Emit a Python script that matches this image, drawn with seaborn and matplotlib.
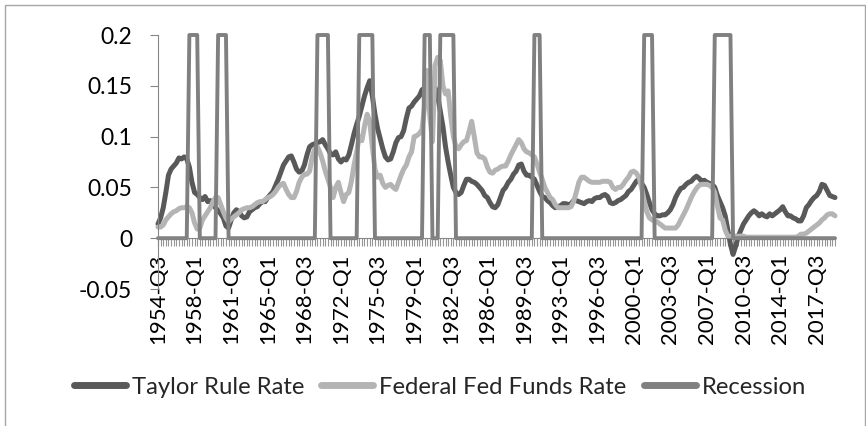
import numpy as np
import pandas as pd
import matplotlib
matplotlib.use("Agg")
import matplotlib.pyplot as plt
import seaborn as sns
from matplotlib.lines import Line2D
from matplotlib.patches import Rectangle
from matplotlib.ticker import FixedLocator

# ---------------- data (quarterly, starting 1954-Q3) ----------------
start_year = 1954
start_quarter = 3

taylor = [
    0.014, 0.02, 0.03, 0.045, 0.062, 0.068, 0.071, 0.074, 0.079, 0.078,
    0.08, 0.078, 0.07, 0.055, 0.045, 0.043, 0.04, 0.038, 0.041, 0.036,
    0.037, 0.033, 0.03, 0.027, 0.024, 0.02, 0.012, 0.01, 0.018, 0.025,
    0.028, 0.026, 0.022, 0.02, 0.021, 0.026, 0.028, 0.03, 0.031, 0.034,
    0.036, 0.036, 0.04, 0.043, 0.046, 0.052, 0.058, 0.065, 0.072, 0.076,
    0.08, 0.081, 0.075, 0.068, 0.065, 0.066, 0.072, 0.082, 0.09, 0.092,
    0.093, 0.094, 0.095, 0.097, 0.092, 0.088, 0.083, 0.082, 0.085, 0.078,
    0.075, 0.078, 0.077, 0.082, 0.092, 0.103, 0.112, 0.12, 0.13, 0.14,
    0.148, 0.155, 0.14, 0.122, 0.108, 0.098, 0.088, 0.08, 0.077, 0.078,
    0.085, 0.094, 0.099, 0.1, 0.106, 0.118, 0.128, 0.13, 0.134, 0.137,
    0.14, 0.146, 0.148, 0.142, 0.145, 0.15, 0.148, 0.14, 0.125, 0.11,
    0.09, 0.075, 0.062, 0.05, 0.045, 0.043, 0.045, 0.052, 0.058, 0.058,
    0.056, 0.055, 0.053, 0.05, 0.047, 0.042, 0.04, 0.035, 0.031, 0.03,
    0.033, 0.04, 0.047, 0.05, 0.055, 0.058, 0.063, 0.066, 0.072, 0.073,
    0.066, 0.062, 0.062, 0.06, 0.058, 0.052, 0.046, 0.041, 0.04, 0.037,
    0.035, 0.032, 0.03, 0.031, 0.032, 0.034, 0.034, 0.033, 0.034, 0.037,
    0.037, 0.036, 0.035, 0.034, 0.036, 0.037, 0.036, 0.039, 0.04, 0.04,
    0.042, 0.043, 0.041, 0.035, 0.034, 0.035, 0.037, 0.038, 0.04, 0.042,
    0.046, 0.048, 0.052, 0.056, 0.058, 0.054, 0.05, 0.043, 0.035, 0.028,
    0.024, 0.022, 0.022, 0.023, 0.023, 0.025, 0.028, 0.033, 0.04, 0.045,
    0.049, 0.05, 0.053, 0.055, 0.056, 0.059, 0.061, 0.059, 0.056, 0.057,
    0.055, 0.054, 0.053, 0.05, 0.042, 0.036, 0.03, 0.022, 0.008, -0.006,
    -0.016, -0.008, 0.002, 0.008, 0.014, 0.018, 0.022, 0.025, 0.027, 0.025,
    0.022, 0.024, 0.022, 0.021, 0.024, 0.022, 0.024, 0.026, 0.028, 0.031,
    0.026, 0.022, 0.022, 0.02, 0.019, 0.017, 0.017, 0.022, 0.03, 0.033,
    0.037, 0.04, 0.042, 0.046, 0.053, 0.052, 0.047, 0.042, 0.041, 0.04,
]

fed_funds = [
    0.011, 0.011, 0.013, 0.018, 0.021, 0.024, 0.026, 0.027, 0.029, 0.03,
    0.03, 0.031, 0.03, 0.025, 0.015, 0.009, 0.01, 0.018, 0.022, 0.026,
    0.03, 0.036, 0.04, 0.04, 0.033, 0.026, 0.02, 0.016, 0.019, 0.021,
    0.023, 0.025, 0.028, 0.029, 0.03, 0.03, 0.031, 0.033, 0.035, 0.036,
    0.036, 0.038, 0.04, 0.041, 0.043, 0.046, 0.05, 0.053, 0.054, 0.048,
    0.043, 0.04, 0.04, 0.046, 0.055, 0.06, 0.063, 0.063, 0.066, 0.08,
    0.088, 0.09, 0.084, 0.076, 0.066, 0.058, 0.05, 0.04, 0.05, 0.055,
    0.045, 0.036, 0.043, 0.045, 0.056, 0.072, 0.085, 0.1, 0.096, 0.11,
    0.122, 0.115, 0.09, 0.068, 0.06, 0.062, 0.054, 0.05, 0.052, 0.053,
    0.05, 0.048, 0.055, 0.062, 0.068, 0.072, 0.08, 0.085, 0.1, 0.101,
    0.103, 0.107, 0.13, 0.165, 0.12, 0.095, 0.17, 0.178, 0.175, 0.15,
    0.142, 0.145, 0.12, 0.1, 0.09, 0.088, 0.092, 0.095, 0.096, 0.105,
    0.115, 0.1, 0.084, 0.08, 0.08, 0.078, 0.07, 0.065, 0.064, 0.067,
    0.068, 0.07, 0.071, 0.071, 0.076, 0.082, 0.087, 0.092, 0.097, 0.094,
    0.088, 0.085, 0.084, 0.082, 0.08, 0.073, 0.065, 0.058, 0.05, 0.045,
    0.04, 0.038, 0.033, 0.03, 0.03, 0.03, 0.03, 0.03, 0.031, 0.036,
    0.045, 0.055, 0.06, 0.06, 0.058, 0.056, 0.055, 0.055, 0.055, 0.055,
    0.056, 0.056, 0.056, 0.055, 0.05, 0.048, 0.05, 0.05, 0.053, 0.057,
    0.06, 0.065, 0.066, 0.064, 0.06, 0.05, 0.037, 0.026, 0.02, 0.018,
    0.017, 0.016, 0.014, 0.012, 0.01, 0.01, 0.01, 0.01, 0.01, 0.013,
    0.018, 0.023, 0.028, 0.034, 0.04, 0.045, 0.049, 0.052, 0.053, 0.053,
    0.053, 0.052, 0.05, 0.045, 0.032, 0.02, 0.018, 0.008, 0.002, 0.002,
    0.002, 0.002, 0.002, 0.002, 0.002, 0.001, 0.001, 0.001, 0.001, 0.001,
    0.001, 0.001, 0.001, 0.001, 0.001, 0.001, 0.001, 0.001, 0.001, 0.001,
    0.001, 0.001, 0.001, 0.001, 0.001, 0.002, 0.004, 0.004, 0.005, 0.007,
    0.009, 0.011, 0.013, 0.015, 0.018, 0.02, 0.023, 0.024, 0.024, 0.022,
]

recession_periods = [
    ("1957-Q3", "1958-Q2"), ("1960-Q2", "1961-Q1"), ("1969-Q4", "1970-Q4"),
    ("1973-Q4", "1975-Q1"), ("1980-Q1", "1980-Q3"), ("1981-Q3", "1982-Q4"),
    ("1990-Q3", "1991-Q1"), ("2001-Q1", "2001-Q4"), ("2007-Q4", "2009-Q2"),
]
recession_level = 0.2

xtick_labels = [
    "1954-Q3", "1958-Q1", "1961-Q3", "1965-Q1", "1968-Q3", "1972-Q1",
    "1975-Q3", "1979-Q1", "1982-Q3", "1986-Q1", "1989-Q3", "1993-Q1",
    "1996-Q3", "2000-Q1", "2003-Q3", "2007-Q1", "2010-Q3", "2014-Q1",
    "2017-Q3",
]
ytick_values = [-0.05, 0, 0.05, 0.1, 0.15, 0.2]
ytick_labels = ["-0.05", "0", "0.05", "0.1", "0.15", "0.2"]
series_names = ["Taylor Rule Rate", "Federal Fed Funds Rate", "Recession"]

# ---------------- build table ----------------
n = len(taylor)
quarters = []
yr, qt = start_year, start_quarter
for _ in range(n):
    quarters.append(f"{yr}-Q{qt}")
    qt += 1
    if qt > 4:
        qt = 1
        yr += 1

rec_ranges = [(quarters.index(a), quarters.index(b)) for a, b in recession_periods]
recession = [recession_level if any(lo <= i <= hi for lo, hi in rec_ranges) else 0.0
             for i in range(n)]

df = pd.DataFrame({
    "pos": np.arange(n),
    "quarter": quarters,
    series_names[0]: taylor,
    series_names[1]: fed_funds,
    series_names[2]: recession,
})

# ---------------- plot ----------------
sns.set_theme(style="white")
plt.rcParams["font.family"] = ["Lato", "DejaVu Sans"]
plt.rcParams["xtick.bottom"] = True
plt.rcParams["xtick.minor.bottom"] = True
plt.rcParams["ytick.left"] = True

W, H = 866, 426
fig = plt.figure(figsize=(W / 100, H / 100), dpi=100)
fig.patch.set_facecolor("white")
renderer = fig.canvas.get_renderer()


def fit_size(text, target_px, base=12.0):
    t = fig.text(0, 0, text, fontsize=base)
    w = t.get_window_extent(renderer).width
    t.remove()
    return base * target_px / w


ytick_fs = fit_size("0.15", 45)
xtick_fs = fit_size("1954-Q3", 90)
legend_fs = fit_size("Taylor Rule Rate", 173)
px_per_pt = 100 / 72.0

ax_left, ax_right, ax_top, ax_bottom = 158, 835, 35, 289
ax = fig.add_axes([ax_left / W, 1 - ax_bottom / H, (ax_right - ax_left) / W,
                   (ax_bottom - ax_top) / H])

colors = ["#595959", "#b4b4b4", "#808080"]
widths = [3.6, 3.6, 2.8]
for name, c, lw in zip(series_names, colors, widths):
    sns.lineplot(data=df, x="pos", y=name, color=c, linewidth=lw, ax=ax,
                 legend=False, solid_joinstyle="round")
for line in ax.get_lines():
    line.set_clip_on(False)

ax.set_xlim(0, n - 1)
ax.set_ylim(-0.05, 0.2)
ax.set_xlabel("")
ax.set_ylabel("")

axis_color = "#868686"
for s in ["top", "right"]:
    ax.spines[s].set_visible(False)
ax.spines["bottom"].set_position(("data", 0))
ax.spines["bottom"].set_color(axis_color)
ax.spines["left"].set_color(axis_color)
ax.spines["bottom"].set_linewidth(0.8)
ax.spines["left"].set_linewidth(0.8)

major_pos = [quarters.index(l) for l in xtick_labels]
ax.xaxis.set_major_locator(FixedLocator(major_pos))
ax.set_xticklabels(xtick_labels, rotation=90, fontsize=xtick_fs, color="black")
ax.xaxis.set_minor_locator(FixedLocator([i for i in range(n) if i not in major_pos]))
ax.tick_params(axis="x", which="both", direction="out", length=5.5, width=0.8,
               color="#969696", pad=5.5, bottom=True)
ax.set_yticks(ytick_values)
ax.set_yticklabels(ytick_labels, fontsize=ytick_fs, color="black")
ax.tick_params(axis="y", which="major", direction="out", length=6, width=0.8,
               color=axis_color, pad=12.5, left=True)
ax.tick_params(axis="y", which="minor", left=False)
for t in ax.xaxis.get_minor_ticks() + ax.xaxis.get_major_ticks():
    t.tick1line.set_visible(True)
    t.tick1line.set_zorder(3)

# legend
handles = [Line2D([0], [0], color=c, linewidth=5, solid_capstyle="round")
           for c in colors]
fs_px = legend_fs * px_per_pt
fig.legend(handles, series_names, loc="center", ncol=3, frameon=False,
           bbox_to_anchor=(440 / W, 1 - 387 / H), fontsize=legend_fs,
           handlelength=52 / fs_px, handletextpad=6 / fs_px,
           columnspacing=17 / fs_px, borderpad=0)

# chart border
fig.add_artist(Rectangle((5 / W, -0.05), (865 - 5) / W, 1 - 5 / H + 0.05,
                         transform=fig.transFigure, fill=False,
                         edgecolor="#a6a6a6", linewidth=1.0))

fig.savefig("out.png", dpi=100, facecolor="white")
